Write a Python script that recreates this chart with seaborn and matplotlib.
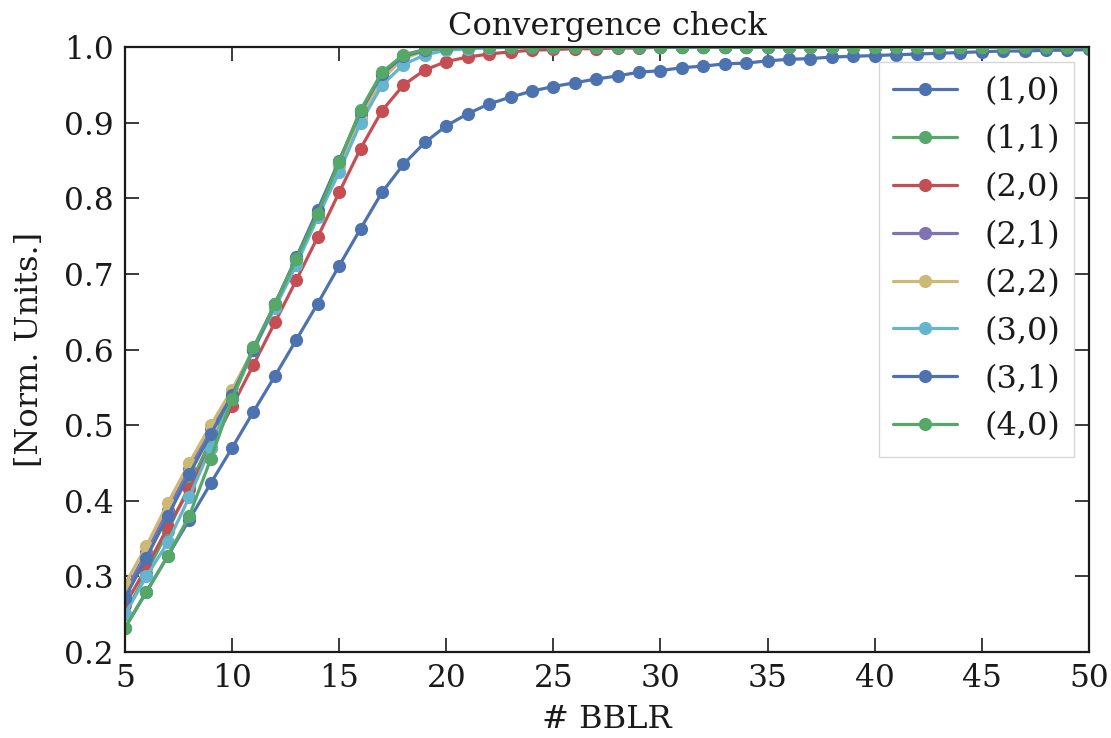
import numpy as np
import pandas as pd
import matplotlib
matplotlib.use("Agg")
import matplotlib.pyplot as plt
import seaborn as sns

bblr = list(range(5, 51))

labels = ["(1,0)", "(1,1)", "(2,0)", "(2,1)", "(2,2)", "(3,0)", "(3,1)", "(4,0)"]

s10 = [0.232, 0.280, 0.327, 0.375, 0.423, 0.470, 0.518, 0.565, 0.613, 0.661,
       0.711, 0.760, 0.808, 0.845, 0.874, 0.896, 0.912, 0.925, 0.934, 0.942,
       0.948, 0.953, 0.958, 0.962, 0.967, 0.969, 0.973, 0.975, 0.978, 0.979,
       0.982, 0.984, 0.985, 0.987, 0.988, 0.989, 0.990, 0.991, 0.992, 0.993,
       0.994, 0.995, 0.995, 0.996, 0.996, 0.997]
s11 = [0.250, 0.305, 0.360, 0.420, 0.480, 0.540, 0.602, 0.660, 0.720, 0.782,
       0.848, 0.915, 0.965, 0.988, 0.996, 0.999] + [1.0] * 30
s20 = [0.262, 0.312, 0.365, 0.415, 0.470, 0.525, 0.580, 0.636, 0.692, 0.749,
       0.808, 0.866, 0.916, 0.950, 0.970, 0.981, 0.987, 0.991, 0.994, 0.996,
       0.997, 0.998, 0.998, 0.999, 0.999] + [1.0] * 21
s21 = [0.280, 0.332, 0.388, 0.442, 0.495, 0.545, 0.600, 0.660, 0.720, 0.780,
       0.845, 0.910, 0.962, 0.987, 0.996, 0.999] + [1.0] * 30
s22 = [0.290, 0.340, 0.397, 0.450, 0.500, 0.547, 0.600, 0.660, 0.720, 0.780,
       0.843, 0.905, 0.958, 0.985, 0.995, 0.999] + [1.0] * 30
s30 = [0.250, 0.300, 0.345, 0.405, 0.470, 0.535, 0.600, 0.655, 0.712, 0.775,
       0.835, 0.900, 0.950, 0.977, 0.990, 0.996, 0.998, 0.999] + [1.0] * 28
s31 = [0.272, 0.325, 0.380, 0.435, 0.488, 0.540, 0.600, 0.660, 0.722, 0.785,
       0.850, 0.915, 0.965, 0.988, 0.996, 0.999] + [1.0] * 30
s40 = [0.232, 0.279, 0.327, 0.380, 0.455, 0.535, 0.603, 0.660, 0.720, 0.780,
       0.848, 0.917, 0.967, 0.990, 0.997, 0.999] + [1.0] * 30

series = [s10, s11, s20, s21, s22, s30, s31, s40]

frames = []
for lab, vals in zip(labels, series):
    frames.append(pd.DataFrame({"BBLR": bblr, "val": vals, "mode": lab}))
df = pd.concat(frames, ignore_index=True)

sns.set_theme(style="ticks")
plt.rcParams["font.family"] = ["DejaVu Serif"]
plt.rcParams["mathtext.fontset"] = "dejavuserif"

deep6 = sns.color_palette("deep6")
palette = {lab: deep6[i % 6] for i, lab in enumerate(labels)}

fig = plt.figure(figsize=(11.11, 7.38), dpi=100)
ax = fig.add_axes([0.1125, 0.1165, 0.8675, 0.8195])

sns.lineplot(data=df, x="BBLR", y="val", hue="mode", hue_order=labels,
             palette=palette, marker="o", markersize=9.5, markeredgewidth=0,
             linewidth=2.3, ax=ax, legend=True)

ax.set_xlim(5, 50)
ax.set_ylim(0.2, 1.0)
ax.set_xticks(np.arange(5, 51, 5))
ax.set_yticks(np.arange(0.2, 1.01, 0.1))
ax.set_yticklabels([f"{v:.1f}" for v in np.arange(0.2, 1.01, 0.1)])
ax.tick_params(direction="in", length=10, width=1.2, top=True, right=True,
               labelsize=22.5, pad=8, colors="#1a1a1a")
for sp in ax.spines.values():
    sp.set_linewidth(1.6)
    sp.set_color("#1a1a1a")
    sp.set_visible(True)

ax.set_xlabel("# BBLR", fontsize=23, labelpad=7, color="#1a1a1a")
ax.set_ylabel("[Norm. Units.]", fontsize=23, labelpad=14, color="#1a1a1a")
ax.set_title("Convergence check", fontsize=23, pad=9, color="#1a1a1a")

leg = ax.legend(loc="upper right", fontsize=23, frameon=True, fancybox=False,
                edgecolor="0.8", borderaxespad=0.45, handlelength=2.0,
                labelspacing=0.53, borderpad=0.45, handletextpad=0.85)
leg.get_frame().set_linewidth(1.0)
for t in leg.get_texts():
    t.set_color("#1a1a1a")

fig.savefig("out.png", dpi=100)
